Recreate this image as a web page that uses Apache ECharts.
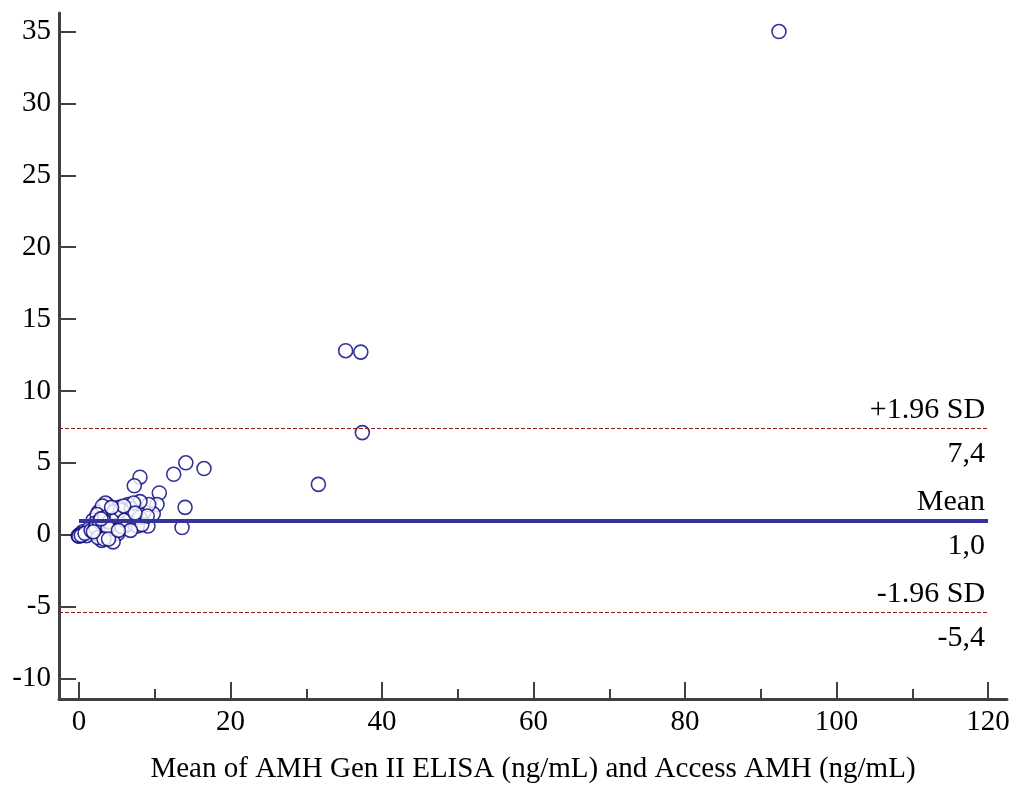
<!DOCTYPE html>
<html>
<head>
<meta charset="utf-8">
<script src="https://cdn.jsdelivr.net/npm/echarts@6/dist/echarts.min.js"></script>
<style>
  html, body { margin: 0; padding: 0; background: #fff; }
  #chart { width: 1014px; height: 789px; }
</style>
</head>
<body>
<div id="chart"></div>
<script>
// mean of the two methods (x) and their difference (y)
var meanVals = [92.4, 35.2, 37.2, 37.4, 31.6, 14.1, 16.5, 12.5, 14.0, 13.6,
  10.6, 10.3, 9.8, 9.1, 8.05, 7.3, 8.6, 9.2, 8.05, 6.5,
  5.3, 3.7, 2.6, 7.7, 6.5, 7.7, 6.1, 4.8, 4.5, 3.2,
  1.85, 2.8, 4.1, 5.1, 3.0, 4.5, 1.45, -0.1, 0.5, 1.0,
  5.7, 4.1, 3.5, 3.1, 2.4, 2.1, 1.3, 0.2, 0.0, 0.3,
  0.8, 1.6, 2.2, 2.7, 3.4, 4.0, 4.6, 5.0, 5.5, 6.0,
  6.9, 7.2, 8.0, 8.3, 9.0, 3.8, 2.5, 3.3, 1.9, 6.8,
  7.4, 5.9, 4.3, 2.9, 3.9, 5.2];
var diffVals = [35.0, 12.8, 12.7, 7.1, 3.5, 5.0, 4.6, 4.2, 1.9, 0.5,
  2.9, 2.1, 1.45, 0.6, 4.0, 3.4, 1.6, 2.1, 2.3, 2.1,
  1.9, 2.1, 1.6, 1.0, 1.4, 0.6, 0.6, 1.0, 0.3, 0.75,
  1.0, 0.2, 0.07, 0.07, -0.4, -0.5, 0.07, -0.07, 0.2, -0.07,
  0.55, 1.45, 2.2, 2.0, 1.4, 0.8, 0.4, 0.05, -0.1, -0.05,
  0.1, 0.3, 0.5, 0.9, 1.2, 0.9, 1.6, 1.2, 1.7, 1.0,
  1.8, 2.2, 1.2, 0.7, 1.3, 0.5, -0.2, -0.3, 0.2, 0.3,
  1.5, 2.0, 1.9, 1.1, -0.3, 0.3];
var meanDiff = 1.0;
var upperLimit = 7.4;
var lowerLimit = -5.4;
var xTicks = [0, 20, 40, 60, 80, 100, 120];
var xMinorTicks = [10, 30, 50, 70, 90, 110];
var yTicks = [-10, -5, 0, 5, 10, 15, 20, 25, 30, 35];

var serif = "'Liberation Serif', 'DejaVu Serif', serif";
var xMin = -2.64, xMax = 122.5, yMin = -11.43, yMax = 36.29;

var points = [];
for (var i = 0; i < meanVals.length; i++) {
    points.push([meanVals[i], diffVals[i]]);
}
function fmt(v) { return v.toFixed(1).replace('.', ','); }

var hidden = { color: 'transparent', width: 0 };
var redDash = { color: '#8b1a1a', type: [4, 2], width: 1 };
function below(text) {
    return { position: 'insideEndBottom', distance: [3, 11], formatter: text };
}

var myChart = echarts.init(document.getElementById('chart'));
var option = {
    animation: false,
    backgroundColor: '#fff',
    grid: { left: 59, right: 7, top: 13, bottom: 87 },
    xAxis: [{
        type: 'value', min: xMin, max: xMax,
        name: 'Mean of AMH Gen II ELISA (ng/mL) and Access AMH (ng/mL)',
        nameLocation: 'middle', nameGap: 56,
        nameTextStyle: { fontFamily: serif, fontSize: 29, color: '#000' },
        axisLine: { onZero: false, lineStyle: { color: '#404040', width: 3 } },
        axisTick: { inside: true, length: 17, lineStyle: { color: '#404040', width: 2 }, customValues: xTicks },
        axisLabel: { fontFamily: serif, fontSize: 29, color: '#000', margin: 9, customValues: xTicks },
        splitLine: { show: false }
    }, {
        type: 'value', min: xMin, max: xMax, position: 'bottom',
        axisLine: { show: false, onZero: false },
        axisTick: { inside: true, length: 10, lineStyle: { color: '#404040', width: 2 }, customValues: xMinorTicks },
        axisLabel: { show: false },
        splitLine: { show: false }
    }],
    yAxis: {
        type: 'value', min: yMin, max: yMax,
        axisLine: { onZero: false, lineStyle: { color: '#404040', width: 3 } },
        axisTick: { inside: true, length: 17, lineStyle: { color: '#404040', width: 2 }, customValues: yTicks },
        axisLabel: { fontFamily: serif, fontSize: 29, color: '#000', margin: 8, customValues: yTicks },
        splitLine: { show: false }
    },
    series: [{
        type: 'scatter',
        data: points,
        symbol: 'circle',
        symbolSize: 14,
        z: 2,
        itemStyle: { color: '#fff', borderColor: '#000080', borderWidth: 1.6 }
    }, {
        type: 'line',
        data: [],
        z: 5,
        markLine: {
            silent: true,
            symbol: 'none',
            animation: false,
            label: { fontFamily: serif, fontSize: 30, color: '#000', distance: 3 },
            data: [
                [{ coord: [xMin, upperLimit], lineStyle: redDash },
                 { coord: [120, upperLimit], label: { position: 'insideEndTop', formatter: '+1.96 SD' } }],
                [{ coord: [xMin, upperLimit + 0.001], lineStyle: hidden },
                 { coord: [120, upperLimit + 0.001], label: below(fmt(upperLimit)) }],
                [{ coord: [0, meanDiff], lineStyle: { color: '#333399', type: 'solid', width: 4 } },
                 { coord: [120, meanDiff], label: { position: 'insideEndTop', formatter: 'Mean' } }],
                [{ coord: [0, meanDiff + 0.001], lineStyle: hidden },
                 { coord: [120, meanDiff + 0.001], label: below(fmt(meanDiff)) }],
                [{ coord: [xMin, lowerLimit], lineStyle: redDash },
                 { coord: [120, lowerLimit], label: { position: 'insideEndTop', formatter: '-1.96 SD' } }],
                [{ coord: [xMin, lowerLimit + 0.001], lineStyle: hidden },
                 { coord: [120, lowerLimit + 0.001], label: below(fmt(lowerLimit)) }]
            ]
        }
    }]
};
myChart.setOption(option);
</script>
</body>
</html>
